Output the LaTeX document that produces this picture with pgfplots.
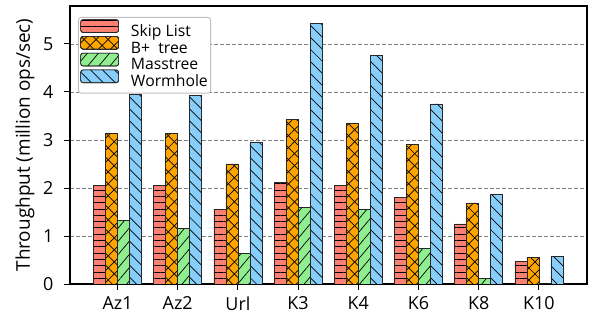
\documentclass[border=0pt]{standalone}
\usepackage{pgfplots}
\pgfplotsset{compat=1.18}
\usepackage{fontspec}
\setmainfont{Open Sans}
\setsansfont{Open Sans}
\usetikzlibrary{patterns.meta}
\definecolor{skip}{HTML}{FA8072}
\definecolor{bplus}{HTML}{FFA500}
\definecolor{mass}{HTML}{90EE90}
\definecolor{worm}{HTML}{87CEFA}
\begin{document}
\begin{tikzpicture}
\begin{axis}[
  scale only axis,
  width=517bp, height=278bp,
  ybar=0pt, bar width=12bp,
  xmin=-0.79, xmax=7.8,
  ymin=0, ymax=5.79,
  xtick={0,1,2,3,4,5,6,7},
  xticklabels={Az1,Az2,Url,K3,K4,K6,K8,K10},
  ytick={0,1,2,3,4,5},
  ymajorgrids, grid style={dash pattern=on 4bp off 2bp, black!50, line width=0.6pt},
  axis line style={line width=1.1pt},
  tick style={black, line width=0.9pt},
  major tick length=6bp,
  tick align=outside,
  xtick pos=bottom, ytick pos=left,
  ylabel={Throughput (million ops/sec)},
  ylabel style={font=\fontsize{19}{21}\selectfont, yshift=2bp},
  ticklabel style={font=\fontsize{18}{20}\selectfont},
  yticklabel style={xshift=-7bp},
  xticklabel style={yshift=-3bp},
  /pgf/number format/assume math mode=true,
  legend style={at={(rel axis cs:0,1)}, anchor=north west, xshift=8bp, yshift=-11bp, font=\fontsize{15.8}{16}\selectfont, draw=black!25, fill=white, line width=1pt, rounded corners=2.5pt, row sep=-5bp, inner sep=1.8bp,
    nodes={inner sep=1bp, text height=12.2bp, text depth=3.6bp}},
  legend cell align=left,
  legend image code/.code={\draw[#1, line width=0.7pt] (0bp,-0.3bp) rectangle (38bp,12.5bp);},
  every axis plot/.append style={draw=black!85, line width=0.7pt},
]
\addplot[fill=skip, postaction={pattern={Lines[angle=0, distance=6.3bp, line width=0.7pt]}}] coordinates {(0,2.06) (1,2.05) (2,1.56) (3,2.12) (4,2.06) (5,1.80) (6,1.25) (7,0.47)};
\addplot[fill=bplus, postaction={pattern={Lines[angle=45, distance=8.5bp, line width=0.7pt]}}, postaction={pattern={Lines[angle=-45, distance=8.5bp, line width=0.7pt]}}] coordinates {(0,3.13) (1,3.13) (2,2.50) (3,3.42) (4,3.35) (5,2.90) (6,1.69) (7,0.55)};
\addplot[fill=mass, postaction={pattern={Lines[angle=50, distance=8.5bp, line width=0.7pt]}}] coordinates {(0,1.33) (1,1.16) (2,0.64) (3,1.60) (4,1.56) (5,0.74) (6,0.12) (7,0)};
\addplot[fill=worm, postaction={pattern={Lines[angle=-45, distance=8.5bp, line width=0.7pt]}}] coordinates {(0,3.96) (1,3.92) (2,2.96) (3,5.42) (4,4.76) (5,3.75) (6,1.87) (7,0.58)};
\legend{\hspace*{11bp}Skip List, \hspace*{11bp}B+\ \ tree, \hspace*{11bp}Masstree, \hspace*{11bp}Wormhole}
\end{axis}
\pgfresetboundingbox
\path ([xshift=-70bp,yshift=-32bp]current axis.south west) rectangle ([xshift=2bp,yshift=6bp]current axis.north east);
\end{tikzpicture}
\end{document}
